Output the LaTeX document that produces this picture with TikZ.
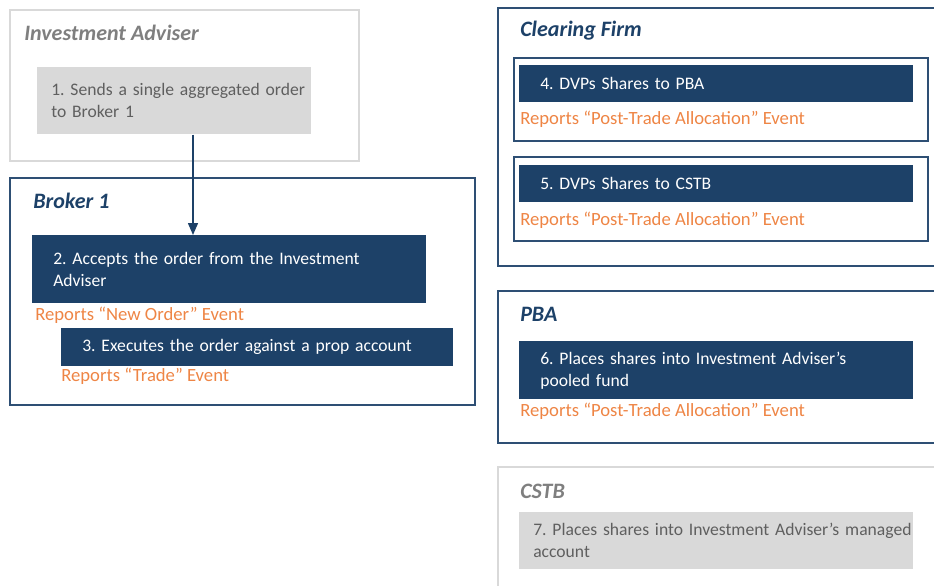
\documentclass[tikz,border=0pt]{standalone}
\usepackage{fontspec}
\setmainfont{Carlito}
\usetikzlibrary{arrows.meta}
\frenchspacing

\definecolor{navy}{HTML}{1D4168}
\definecolor{navyline}{HTML}{2E4F74}
\definecolor{lgray}{HTML}{D9D9D9}
\definecolor{dgray}{HTML}{5F5F5F}
\definecolor{tgray}{HTML}{7F7F7F}
\definecolor{rep}{HTML}{EE8545}

\begin{document}
\begin{tikzpicture}[x=0.75pt, y=-0.75pt,
    frame/.style={draw=navyline, line width=1.5pt, anchor=north west, inner sep=0pt},
    gframe/.style={frame, draw=lgray},
    subframe/.style={frame, line width=1.2pt},
    title/.style={anchor=west, inner sep=0pt, font=\fontsize{16.5}{18}\selectfont\bfseries\itshape, text=navy},
    stepbox/.style={fill=navy, text=white, anchor=north west, align=left, inner xsep=15.75pt,
        font=\fontsize{13.2}{16.5}\selectfont},
    graybox/.style={stepbox, fill=lgray, text=dgray, inner xsep=10.5pt},
    report/.style={anchor=west, inner sep=0pt, text=rep, font=\fontsize{14}{16}\selectfont}]
  \useasboundingbox (0,0) rectangle (934,585);
  \clip (0,0) rectangle (934,585);

  % frames
  \node[gframe, minimum width=261.75pt, minimum height=113.25pt] (adviser) at (9,9) {};
  \node[frame, minimum width=348.75pt, minimum height=170.25pt] (broker) at (9,177) {};
  \node[frame, minimum width=345pt, minimum height=193.5pt] (clearing) at (497,7) {};
  \node[subframe, minimum width=310.5pt, minimum height=62.25pt] (clearA) at (513,57) {};
  \node[subframe, minimum width=310.5pt, minimum height=63pt] (clearB) at (513,156) {};
  \node[frame, minimum width=345pt, minimum height=114pt] (pba) at (497,290) {};
  \node[gframe, minimum width=345pt, minimum height=120pt] (cstb) at (497,466) {};

  % titles
  \node[title, text=tgray] (tadviser) at (24,33) {Investment Adviser};
  \node[title] (tbroker) at (33,201) {Broker 1};
  \node[title] (tclearing) at (520,31) {Clearing Firm};
  \node[title] (tpba) at (520,314) {PBA};
  \node[title, text=tgray] (tcstb) at (520,491) {CSTB};

  % steps
  \node[graybox, text width=184.5pt, minimum height=50.25pt] (s1) at (37,67)
    {\mbox{1. Sends a single aggregated order}\\to Broker 1};
  \node[stepbox, text width=264pt, minimum height=51pt] (s2) at (32,235)
    {\mbox{2. Accepts the order from the Investment}\\Adviser};
  \node[stepbox, text width=262.5pt, minimum height=28.5pt] (s3) at (61,328)
    {\mbox{3. Executes the order against a prop account}};
  \node[stepbox, text width=264pt, minimum height=27.75pt] (s4) at (519,65)
    {4. DVPs Shares to PBA};
  \node[stepbox, text width=264pt, minimum height=27.75pt] (s5) at (519,165)
    {5. DVPs Shares to CSTB};
  \node[stepbox, text width=264pt, minimum height=43.5pt] (s6) at (519,341)
    {\mbox{6. Places shares into Investment Adviser’s}\\pooled fund};
  \node[graybox, text width=274.5pt, minimum height=42.75pt] (s7) at (519,512)
    {\mbox{7. Places shares into Investment Adviser’s managed}\\account};

  % reported events
  \node[report] (r2) at (35,315) {Reports “New Order” Event};
  \node[report] (r3) at (61,376) {Reports “Trade” Event};
  \node[report] (r4) at (520,119) {Reports “Post-Trade Allocation” Event};
  \node[report] (r5) at (520,220) {Reports “Post-Trade Allocation” Event};
  \node[report] (r6) at (520,411) {Reports “Post-Trade Allocation” Event};

  % order flow
  \coordinate (flow) at (193,0);
  \draw[navy, line width=1.1pt, -{Triangle[width=7.5pt, length=9pt]}]
    (s1.south -| flow) -- (s2.north -| flow);
\end{tikzpicture}
\end{document}
